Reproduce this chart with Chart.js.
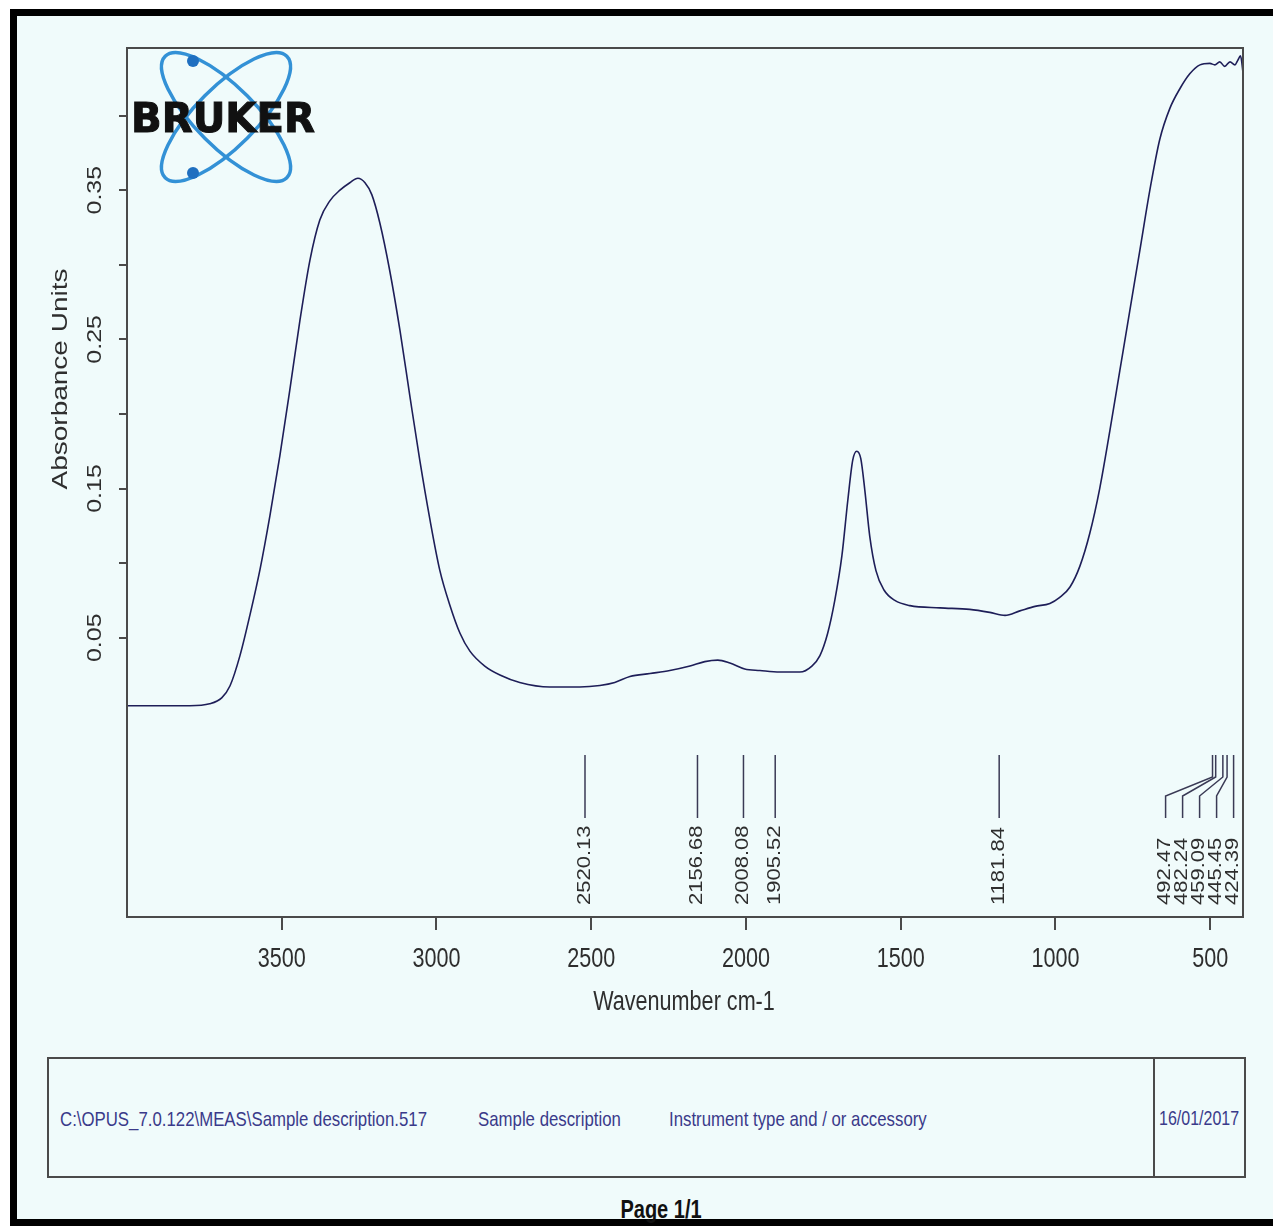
<!DOCTYPE html>
<html>
<head>
<meta charset="utf-8">
<script src="https://cdn.jsdelivr.net/npm/chart.js@4.4.1/dist/chart.umd.min.js"></script>
<style>
  html, body { margin: 0; padding: 0; background: #fff; }
  body { width: 1273px; height: 1226px; position: relative; overflow: hidden; font-family: "Liberation Sans", Arial, sans-serif; }
  #page { position: absolute; left: 10px; top: 9px; width: 1300px; height: 1217px; box-sizing: border-box;
          border-left: 7px solid #000; border-top: 7px solid #000; border-bottom: 7px solid #000; background: #f0fbfb; }
  #chart { position: absolute; left: 0; top: 0; }
  #logo { position: absolute; left: 0; top: 0; }
  #footer { position: absolute; left: 47px; top: 1057px; width: 1199px; height: 121px; box-sizing: border-box; border: 2px solid #4a4a4a; }
  #divider { position: absolute; left: 1104px; top: 0; width: 2px; height: 100%; background: #4a4a4a; }
  .ft { position: absolute; top: 1107px; font-size: 21px; color: #3a3a8a; white-space: nowrap; transform: scaleX(0.8); transform-origin: left center; }
  #pageno { position: absolute; top: 1195px; left: 661px; font-size: 25px; font-weight: bold; color: #111; white-space: nowrap; transform: translateX(-50%) scaleX(0.8); transform-origin: center; }
</style>
</head>
<body>
<div id="page"></div>
<canvas id="chart" width="1273" height="1040"></canvas>
<svg id="logo" width="400" height="220" xmlns="http://www.w3.org/2000/svg">
  <g fill="none" stroke="#3391d6" stroke-width="3.5">
    <ellipse cx="226" cy="117" rx="86" ry="30" transform="rotate(45 226 117)"/>
    <ellipse cx="226" cy="117" rx="86" ry="30" transform="rotate(-45 226 117)"/>
  </g>
  <circle cx="193" cy="61" r="6" fill="#1f6fc0"/>
  <circle cx="193" cy="173" r="6" fill="#1f6fc0"/>
  <text x="131" y="132" font-family="DejaVu Sans" font-weight="bold" font-size="40" textLength="184" lengthAdjust="spacingAndGlyphs" fill="#111" stroke="#111" stroke-width="1">BRUKER</text>
</svg>
<div id="footer"><div id="divider"></div></div>
<div class="ft" style="left:60px">C:\OPUS_7.0.122\MEAS\Sample description.517</div>
<div class="ft" style="left:478px">Sample description</div>
<div class="ft" style="left:669px">Instrument type and / or accessory</div>
<div class="ft" style="left:1159px; font-size:20px">16/01/2017</div>
<div id="pageno">Page 1/1</div>

<script>
// spectrum
const wavenumbers = [4000, 3894, 3797, 3733, 3694, 3667, 3635, 3603, 3570, 3538, 3506, 3474, 3441, 3409, 3377, 3344, 3312, 3280, 3254, 3231, 3209, 3183, 3151, 3118, 3086, 3054, 3021, 2989, 2957, 2924, 2892, 2844, 2795, 2731, 2634, 2537, 2472, 2424, 2375, 2310, 2246, 2181, 2133, 2091, 2052, 2004, 1955, 1891, 1826, 1787, 1761, 1736, 1713, 1690, 1671, 1655, 1642, 1629, 1616, 1600, 1580, 1554, 1519, 1470, 1373, 1277, 1212, 1163, 1115, 1066, 1018, 986, 953, 921, 889, 857, 824, 792, 760, 727, 695, 663, 630, 598, 566, 533, 501, 485, 469, 453, 436, 420, 411, 402, 394];
const absorbance = [0.0044, 0.0044, 0.0044, 0.0057, 0.0097, 0.0178, 0.038, 0.065, 0.096, 0.132, 0.172, 0.216, 0.263, 0.303, 0.330, 0.343, 0.350, 0.355, 0.358, 0.355, 0.347, 0.328, 0.296, 0.256, 0.212, 0.169, 0.129, 0.095, 0.072, 0.053, 0.041, 0.031, 0.025, 0.020, 0.017, 0.017, 0.018, 0.020, 0.024, 0.026, 0.028, 0.031, 0.034, 0.035, 0.033, 0.029, 0.028, 0.027, 0.027, 0.031, 0.038, 0.053, 0.075, 0.105, 0.142, 0.169, 0.175, 0.170, 0.149, 0.118, 0.095, 0.082, 0.075, 0.0715, 0.070, 0.069, 0.067, 0.065, 0.068, 0.071, 0.073, 0.077, 0.084, 0.098, 0.120, 0.150, 0.189, 0.229, 0.269, 0.310, 0.350, 0.384, 0.405, 0.418, 0.428, 0.434, 0.435, 0.434, 0.436, 0.433, 0.436, 0.434, 0.437, 0.440, 0.429];

const xTickLabels = ['3500', '3000', '2500', '2000', '1500', '1000', '500'];
const yTickLabels = ['0.05', '0.15', '0.25', '0.35'];
const peakPositions = [2520.13, 2156.68, 2008.08, 1905.52, 1181.84, 492.47, 482.24, 459.09, 445.45, 424.39];
const peakLabels = ['2520.13', '2156.68', '2008.08', '1905.52', '1181.84', '492.47', '482.24', '459.09', '445.45', '424.39'];

const SQ = 0.8; // the scan is squeezed horizontally
const FONT = '"Liberation Sans", Arial, sans-serif';
const TEXT = '#2e2e2e';
const AXIS = '#4a4a4a';

function hText(ctx, str, x, y, size, color) {
  ctx.save();
  ctx.translate(x, y);
  ctx.scale(SQ, 1);
  ctx.font = size + 'px ' + FONT;
  ctx.fillStyle = color;
  ctx.textAlign = 'center';
  ctx.textBaseline = 'middle';
  ctx.fillText(str, 0, 0);
  ctx.restore();
}

function vText(ctx, str, x, y, size, color, align) {
  ctx.save();
  ctx.translate(x, y);
  ctx.scale(SQ, 1);
  ctx.rotate(-Math.PI / 2);
  ctx.font = size + 'px ' + FONT;
  ctx.fillStyle = color;
  ctx.textAlign = align;
  ctx.textBaseline = 'middle';
  ctx.fillText(str, 0, 0);
  ctx.restore();
}

const decorations = {
  id: 'decorations',
  afterDraw(chart) {
    const ctx = chart.ctx;
    const a = chart.chartArea;
    const xs = chart.scales.x;
    const ys = chart.scales.y;

    ctx.save();
    ctx.strokeStyle = AXIS;
    ctx.lineWidth = 2;
    ctx.strokeRect(a.left, a.top, a.right - a.left, a.bottom - a.top);
    // x tick marks below the frame
    ctx.beginPath();
    xTickLabels.forEach(t => {
      const x = Math.round(xs.getPixelForValue(parseFloat(t)));
      ctx.moveTo(x, a.bottom);
      ctx.lineTo(x, a.bottom + 13);
    });
    ctx.stroke();
    ctx.restore();

    yTickLabels.forEach(t => vText(ctx, t, 95, ys.getPixelForValue(parseFloat(t)), 25, TEXT, 'center'));
    vText(ctx, 'Absorbance Units', 61, 379, 28, TEXT, 'center');

    xTickLabels.forEach(t => hText(ctx, t, xs.getPixelForValue(parseFloat(t)), 960, 27, TEXT));
    hText(ctx, 'Wavenumber cm-1', 684, 1003, 27, TEXT);

    // peak picks: isolated ones straight, the crowded right group fans out
    const px = peakPositions.map(p => xs.getPixelForValue(p));
    const lx = px.slice();
    const gap = 17;
    for (let i = px.length - 2; i >= 0; i--) {
      if (lx[i] > lx[i + 1] - gap) lx[i] = lx[i + 1] - gap;
    }
    ctx.save();
    ctx.strokeStyle = '#3a3a55';
    ctx.lineWidth = 1.5;
    px.forEach((x, i) => {
      ctx.beginPath();
      if (Math.abs(lx[i] - x) < 1) {
        ctx.moveTo(x, 755);
        ctx.lineTo(x, 818);
      } else {
        ctx.moveTo(x, 755);
        ctx.lineTo(x, 777);
        ctx.lineTo(lx[i], 796);
        ctx.lineTo(lx[i], 818);
      }
      ctx.stroke();
    });
    ctx.restore();
    peakLabels.forEach((t, i) => vText(ctx, t, lx[i], 905, 22, TEXT, 'left'));
  }
};

new Chart(document.getElementById('chart'), {
  type: 'line',
  data: {
    datasets: [{
      data: wavenumbers.map((w, i) => ({ x: w, y: absorbance[i] })),
      borderColor: '#1e1e58',
      borderWidth: 1.6,
      pointRadius: 0,
      fill: false,
      cubicInterpolationMode: 'monotone'
    }]
  },
  options: {
    responsive: false,
    animation: false,
    layout: { padding: { left: 0, top: 48, right: 30, bottom: 0 } },
    plugins: { legend: { display: false }, tooltip: { enabled: false } },
    scales: {
      x: {
        type: 'linear',
        reverse: true,
        min: 394,
        max: 4000,
        afterFit: s => { s.height = 123; },
        ticks: { display: false },
        grid: { display: false },
        border: { display: false }
      },
      y: {
        min: -0.1372,
        max: 0.4453,
        afterFit: s => { s.width = 127; },
        ticks: { stepSize: 0.05, includeBounds: false, display: false },
        grid: {
          drawOnChartArea: false, drawTicks: true, tickLength: 8, lineWidth: 2,
          color: c => (c.tick && c.tick.value > 0.04) ? AXIS : 'rgba(0,0,0,0)'
        },
        border: { display: false }
      }
    }
  },
  plugins: [decorations]
});
</script>
</body>
</html>
